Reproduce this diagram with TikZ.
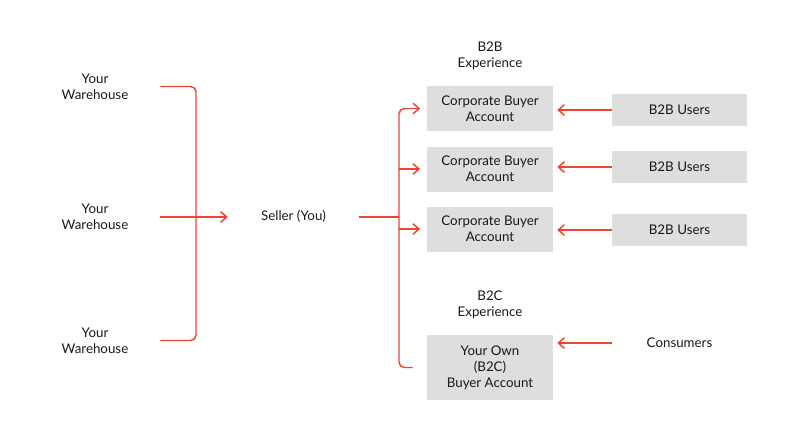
\documentclass[tikz,border=0pt]{standalone}
\usepackage{fontspec}
\setmainfont{Lato}
\usetikzlibrary{arrows.meta}

\definecolor{flowred}{RGB}{240,68,50}
\definecolor{boxgrey}{RGB}{222,222,222}

\begin{document}
\begin{tikzpicture}[x=0.75pt, y=-0.75pt,
		font=\fontsize{10}{12}\selectfont, text=black!90,
		flow/.style={draw=flowred, line width=1.1pt},
		onearrow/.style={-{Straight Barb[length=4.5pt,width=8pt]}},
		src/.style={align=center, minimum width=97.5pt, inner sep=0pt},
		heading/.style={align=center, inner sep=0pt},
		acct/.style={fill=boxgrey, minimum width=94.5pt, minimum height=33.75pt, align=center, inner sep=0pt},
		users/.style={fill=boxgrey, minimum width=101.25pt, minimum height=24pt, inner sep=0pt}]
		\useasboundingbox (0,0) rectangle (792,437);
		
		\node[src] (house1) at (95,86.5) {Your\\Warehouse};
		\node[src] (house2) at (95,217) {Your\\Warehouse};
		\node[src] (house3) at (95,340.5) {Your\\Warehouse};
		\node[src, minimum width=98.25pt] (seller) at (293.5,216) {Seller (You)};
		
		\node[heading] (b2b) at (490,56) {B2B\\Experience};
		\node[acct] (corp1) at (490,108.5) {Corporate Buyer\\Account};
		\node[acct] (corp2) at (490,169) {Corporate Buyer\\Account};
		\node[acct] (corp3) at (490,229) {Corporate Buyer\\Account};
		\node[heading] (b2c) at (490,305) {B2C\\Experience};
		\node[acct, minimum height=48.75pt] (own) at (490,367.5) {Your Own\\(B2C)\\Buyer Account};
		
		\node[users] (users1) at (679.5,110) {B2B Users};
		\node[users] (users2) at (679.5,167) {B2B Users};
		\node[users] (users3) at (679.5,230) {B2B Users};
		\node[src, minimum width=101.25pt] (consumers) at (679.5,343) {Consumers};
		
		\coordinate (merge) at (196,217);
		\coordinate (fork) at (399,217);
		
		\draw[flow, rounded corners=4pt] (house1.east) -| (merge) |- (house3.east);
		\draw[flow, onearrow] (house2.east) -- (seller.west |- house2.east);
		\draw[flow] (seller.east |- fork) -- (fork);
		\draw[flow, onearrow, rounded corners=4pt, shorten >=5pt] (fork) |- (corp1.west);
		\draw[flow, onearrow, shorten >=5pt] (fork |- corp2.west) -- (corp2.west);
		\draw[flow, onearrow, shorten >=5pt] (fork |- corp3.west) -- (corp3.west);
		\draw[flow, rounded corners=4pt, shorten >=10.5pt] (fork) |- (own.west);
		\foreach \i in {1,2,3}
		\draw[flow, onearrow, shorten >=3pt] (users\i.west) -- (users\i.west -| corp\i.east);
		\draw[flow, onearrow, shorten >=3pt] (consumers.west) -- (consumers.west -| own.east);
	\end{tikzpicture}
\end{document}
